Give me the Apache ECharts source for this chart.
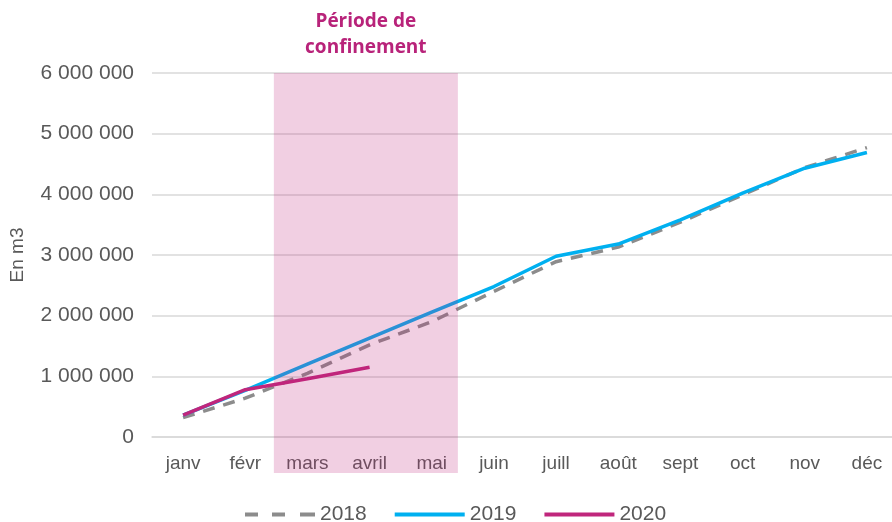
<!DOCTYPE html>
<html>
<head>
<meta charset="utf-8">
<script src="https://cdn.jsdelivr.net/npm/echarts@6/dist/echarts.min.js"></script>
<style>
  html, body { margin: 0; padding: 0; background: #fff; overflow: hidden; }
  #chart { width: 898px; height: 522px; }
</style>
</head>
<body>
<div id="chart"></div>
<script>
var months = ['janv', 'févr', 'mars', 'avril', 'mai', 'juin', 'juill', 'août', 'sept', 'oct', 'nov', 'déc'];
var vol2018 = [320000, 640000, 1050000, 1520000, 1900000, 2400000, 2890000, 3130000, 3540000, 3990000, 4440000, 4770000];
var vol2019 = [360000, 770000, 1200000, 1630000, 2060000, 2480000, 2980000, 3180000, 3580000, 4020000, 4430000, 4690000];
var vol2020 = [360000, 780000, 960000, 1150000];
var yTicks = [0, 1000000, 2000000, 3000000, 4000000, 5000000, 6000000];

var chart = echarts.init(document.getElementById('chart'));

function fmt(v) {
  return String(v).replace(/\B(?=(\d{3})+(?!\d))/g, ' ');
}

var dashIcon = 'path://M0,0h13v4h-13z M27,0h13v4h-13z M55,0h15v4h-15z';

chart.setOption({
  animation: false,
  textStyle: { fontFamily: 'Liberation Sans, Arial, sans-serif' },
  grid: { left: 151, right: 0, top: 73, bottom: 85 },
  legend: {
    top: 499,
    left: 240,
    itemWidth: 70,
    itemHeight: 4,
    itemGap: 28,
    textStyle: { color: '#595959', fontSize: 21 },
    data: [
      { name: '2018', icon: dashIcon },
      { name: '2019', icon: 'rect' },
      { name: '2020', icon: 'rect' }
    ]
  },
  xAxis: {
    type: 'category',
    data: months,
    boundaryGap: true,
    axisLine: { lineStyle: { color: '#D9D9D9', width: 1.5 } },
    axisTick: { show: false },
    axisLabel: { color: '#595959', fontSize: 19, margin: 17 }
  },
  yAxis: {
    type: 'value',
    min: yTicks[0],
    max: yTicks[yTicks.length - 1],
    interval: 1000000,
    name: 'En m3',
    nameLocation: 'middle',
    nameGap: 125,
    nameTextStyle: { color: '#595959', fontSize: 19 },
    axisLine: { show: false },
    axisTick: { show: false },
    axisLabel: { color: '#595959', fontSize: 21, margin: 18, formatter: fmt },
    splitLine: { lineStyle: { color: '#D9D9D9', width: 1.5 } }
  },
  series: [
    {
      name: '2018', type: 'line', data: vol2018, symbol: 'none',
      itemStyle: { color: '#8C8C8C' },
      lineStyle: { color: '#8C8C8C', width: 3.5, type: [12, 9] }
    },
    {
      name: '2019', type: 'line', data: vol2019, symbol: 'none',
      itemStyle: { color: '#00B0F0' },
      lineStyle: { color: '#00B0F0', width: 3.5 }
    },
    {
      name: '2020', type: 'line', data: vol2020, symbol: 'none',
      itemStyle: { color: '#C0267C' },
      lineStyle: { color: '#C0267C', width: 3.5 }
    }
  ]
});

// confinement band, placed from the axis scale
var step = chart.convertToPixel({ xAxisIndex: 0 }, 'mars') - chart.convertToPixel({ xAxisIndex: 0 }, 'févr');
var x0 = chart.convertToPixel({ xAxisIndex: 0 }, 'févr') + 0.46 * step;
var x1 = chart.convertToPixel({ xAxisIndex: 0 }, 'mai') + 0.42 * step;
var yTop = chart.convertToPixel({ yAxisIndex: 0 }, 6000000);
var yBot = chart.convertToPixel({ yAxisIndex: 0 }, 0) + 36;

chart.setOption({
  graphic: [
    {
      type: 'rect', z: 100,
      shape: { x: x0, y: yTop, width: x1 - x0, height: yBot - yTop },
      style: { fill: 'rgba(192,38,124,0.22)' }
    },
    {
      type: 'text', z: 100,
      x: (x0 + x1) / 2, y: 9,
      style: {
        text: 'Période de\nconfinement',
        align: 'center',
        fill: '#B8237A',
        font: 'bold 19px "Open Sans", "Liberation Sans", sans-serif',
        lineHeight: 26
      }
    }
  ]
});
</script>
</body>
</html>
